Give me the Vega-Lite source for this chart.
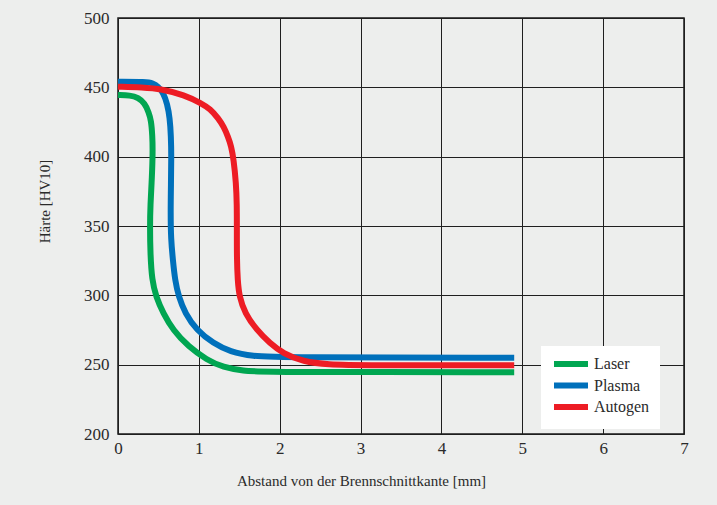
{
  "$schema": "https://vega.github.io/schema/vega-lite/v6.json",
  "width": 566,
  "height": 416,
  "autosize": "none",
  "padding": {"left": 118, "top": 18, "right": 33, "bottom": 71},
  "background": "#edeeed",
  "data": {
    "values": [
      {"v": "Laser", "i": 1, "x": 0, "y": 444.5},
      {"v": "Laser", "i": 2, "x": 0.15, "y": 444.3},
      {"v": "Laser", "i": 3, "x": 0.25, "y": 442.5},
      {"v": "Laser", "i": 4, "x": 0.33, "y": 438.5},
      {"v": "Laser", "i": 5, "x": 0.38, "y": 432},
      {"v": "Laser", "i": 6, "x": 0.41, "y": 426},
      {"v": "Laser", "i": 7, "x": 0.425, "y": 415},
      {"v": "Laser", "i": 8, "x": 0.43, "y": 404},
      {"v": "Laser", "i": 9, "x": 0.42, "y": 385},
      {"v": "Laser", "i": 10, "x": 0.40, "y": 365},
      {"v": "Laser", "i": 11, "x": 0.395, "y": 349.5},
      {"v": "Laser", "i": 12, "x": 0.40, "y": 330},
      {"v": "Laser", "i": 13, "x": 0.42, "y": 311},
      {"v": "Laser", "i": 14, "x": 0.47, "y": 299},
      {"v": "Laser", "i": 15, "x": 0.56, "y": 287},
      {"v": "Laser", "i": 16, "x": 0.68, "y": 275},
      {"v": "Laser", "i": 17, "x": 0.87, "y": 263},
      {"v": "Laser", "i": 18, "x": 1.10, "y": 253.4},
      {"v": "Laser", "i": 19, "x": 1.30, "y": 248.1},
      {"v": "Laser", "i": 20, "x": 1.55, "y": 245.5},
      {"v": "Laser", "i": 21, "x": 1.8, "y": 244.7},
      {"v": "Laser", "i": 22, "x": 4.9, "y": 244.5},
      {"v": "Plasma", "i": 1, "x": 0, "y": 454},
      {"v": "Plasma", "i": 2, "x": 0.35, "y": 454},
      {"v": "Plasma", "i": 3, "x": 0.43, "y": 453},
      {"v": "Plasma", "i": 4, "x": 0.50, "y": 450.5},
      {"v": "Plasma", "i": 5, "x": 0.56, "y": 446},
      {"v": "Plasma", "i": 6, "x": 0.61, "y": 438},
      {"v": "Plasma", "i": 7, "x": 0.64, "y": 428},
      {"v": "Plasma", "i": 8, "x": 0.655, "y": 415},
      {"v": "Plasma", "i": 9, "x": 0.66, "y": 400},
      {"v": "Plasma", "i": 10, "x": 0.655, "y": 380},
      {"v": "Plasma", "i": 11, "x": 0.65, "y": 360},
      {"v": "Plasma", "i": 12, "x": 0.655, "y": 340},
      {"v": "Plasma", "i": 13, "x": 0.68, "y": 325},
      {"v": "Plasma", "i": 14, "x": 0.705, "y": 311},
      {"v": "Plasma", "i": 15, "x": 0.75, "y": 299},
      {"v": "Plasma", "i": 16, "x": 0.83, "y": 287},
      {"v": "Plasma", "i": 17, "x": 0.97, "y": 275},
      {"v": "Plasma", "i": 18, "x": 1.18, "y": 265.4},
      {"v": "Plasma", "i": 19, "x": 1.385, "y": 259.4},
      {"v": "Plasma", "i": 20, "x": 1.67, "y": 256},
      {"v": "Plasma", "i": 21, "x": 2.0, "y": 255.2},
      {"v": "Plasma", "i": 22, "x": 4.9, "y": 255},
      {"v": "Autogen", "i": 1, "x": 0, "y": 450.5},
      {"v": "Autogen", "i": 2, "x": 0.3, "y": 450},
      {"v": "Autogen", "i": 3, "x": 0.54, "y": 448.8},
      {"v": "Autogen", "i": 4, "x": 0.82, "y": 444.5},
      {"v": "Autogen", "i": 5, "x": 1.03, "y": 438.5},
      {"v": "Autogen", "i": 6, "x": 1.14, "y": 434.4},
      {"v": "Autogen", "i": 7, "x": 1.24, "y": 427.7},
      {"v": "Autogen", "i": 8, "x": 1.31, "y": 421.4},
      {"v": "Autogen", "i": 9, "x": 1.36, "y": 414.4},
      {"v": "Autogen", "i": 10, "x": 1.40, "y": 407.7},
      {"v": "Autogen", "i": 11, "x": 1.43, "y": 398},
      {"v": "Autogen", "i": 12, "x": 1.46, "y": 381},
      {"v": "Autogen", "i": 13, "x": 1.47, "y": 365},
      {"v": "Autogen", "i": 14, "x": 1.47, "y": 349.5},
      {"v": "Autogen", "i": 15, "x": 1.47, "y": 325.5},
      {"v": "Autogen", "i": 16, "x": 1.48, "y": 311},
      {"v": "Autogen", "i": 17, "x": 1.50, "y": 299},
      {"v": "Autogen", "i": 18, "x": 1.57, "y": 287},
      {"v": "Autogen", "i": 19, "x": 1.715, "y": 275},
      {"v": "Autogen", "i": 20, "x": 1.88, "y": 265.4},
      {"v": "Autogen", "i": 21, "x": 2.04, "y": 258.2},
      {"v": "Autogen", "i": 22, "x": 2.29, "y": 252.2},
      {"v": "Autogen", "i": 23, "x": 2.6, "y": 250},
      {"v": "Autogen", "i": 24, "x": 3.0, "y": 249.5},
      {"v": "Autogen", "i": 25, "x": 4.9, "y": 249.5}
    ]
  },
  "mark": {"type": "line", "strokeWidth": 6, "strokeCap": "butt", "strokeJoin": "round", "interpolate": "basis"},
  "encoding": {
    "x": {
      "field": "x", "type": "quantitative",
      "scale": {"domain": [0, 7], "nice": false, "zero": false},
      "axis": {
        "values": [0, 1, 2, 3, 4, 5, 6, 7],
        "labelFlush": false,
        "labelFont": "Liberation Serif",
        "title": "Abstand von der Brennschnittkante [mm]",
        "titleX": 243, "titleY": 51, "titleBaseline": "alphabetic",
        "labelPadding": 6
      }
    },
    "y": {
      "field": "y", "type": "quantitative",
      "scale": {"domain": [200, 500], "nice": false, "zero": false},
      "axis": {
        "values": [200, 250, 300, 350, 400, 450, 500],
        "labelFlush": false,
        "labelFont": "Liberation Serif",
        "title": "Härte [HV10]",
        "titleX": -69, "titleY": 183, "titleBaseline": "alphabetic", "titleAngle": -90,
        "labelPadding": 9
      }
    },
    "color": {
      "field": "v", "type": "nominal",
      "scale": {"domain": ["Laser", "Plasma", "Autogen"], "range": ["#00a651", "#0070bb", "#ed1c24"]},
      "legend": {
        "title": null,
        "orient": "none",
        "legendX": 423,
        "legendY": 328,
        "fillColor": "#ffffff",
        "padding": 10,
        "rowPadding": -2.5,
        "symbolType": "M-3.4,0H3.4",
        "symbolStrokeWidth": 6,
        "symbolSize": 100,
        "symbolOffset": 12,
        "labelOffset": 15,
        "labelFont": "Liberation Serif",
        "labelFontSize": 16,
        "labelColor": "#2a2a2a"
      }
    },
    "order": {"field": "i", "type": "quantitative"}
  },
  "config": {
    "font": "Liberation Serif",
    "view": {"stroke": "#1a1a1a", "strokeWidth": 1.5, "fill": "#edeeed"},
    "axis": {
      "grid": true,
      "gridColor": "#1f1f1f",
      "gridWidth": 1,
      "gridOpacity": 1,
      "domain": false,
      "ticks": false,
      "labelFont": "Liberation Serif",
      "labelFontSize": 17,
      "labelColor": "#2a2a2a",
      "titleFont": "Liberation Serif",
      "titleFontSize": 15,
      "titleFontWeight": "normal",
      "titleColor": "#2a2a2a"
    }
  }
}
